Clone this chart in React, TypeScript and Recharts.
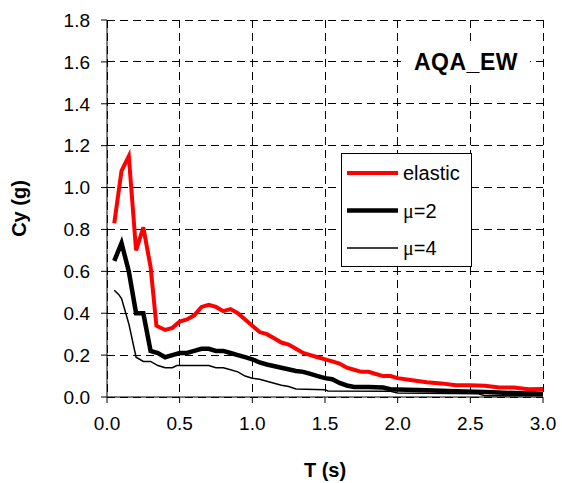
import React from 'react';
import { LineChart, Line, XAxis, YAxis, CartesianGrid, Legend } from 'recharts';

// period T (s) and yield coefficient Cy (g)
const elasticT = [0.05, 0.1, 0.15, 0.2, 0.25, 0.3, 0.34, 0.4, 0.45, 0.5, 0.55, 0.6, 0.65, 0.7, 0.75, 0.8, 0.85, 0.9, 0.95, 1.0, 1.05, 1.1, 1.15, 1.2, 1.25, 1.3, 1.35, 1.4, 1.45, 1.5, 1.55, 1.6, 1.65, 1.7, 1.75, 1.8, 1.85, 1.9, 1.95, 2.0, 2.1, 2.2, 2.3, 2.4, 2.5, 2.6, 2.7, 2.8, 2.9, 3.0];
const elasticCy = [0.83, 1.08, 1.15, 0.7, 0.81, 0.62, 0.34, 0.32, 0.33, 0.36, 0.37, 0.39, 0.43, 0.44, 0.43, 0.41, 0.42, 0.4, 0.37, 0.34, 0.31, 0.3, 0.28, 0.26, 0.25, 0.23, 0.21, 0.2, 0.19, 0.18, 0.17, 0.16, 0.14, 0.13, 0.12, 0.12, 0.11, 0.1, 0.1, 0.09, 0.08, 0.07, 0.065, 0.056, 0.056, 0.054, 0.045, 0.045, 0.037, 0.038];

const mu2T = [0.05, 0.1, 0.15, 0.2, 0.25, 0.3, 0.35, 0.4, 0.45, 0.5, 0.55, 0.6, 0.65, 0.7, 0.75, 0.8, 0.85, 0.9, 0.95, 1.0, 1.05, 1.1, 1.2, 1.3, 1.35, 1.4, 1.45, 1.5, 1.55, 1.6, 1.65, 1.7, 1.8, 1.9, 1.95, 2.0, 2.2, 2.4, 2.6, 2.8, 3.0];
const mu2Cy = [0.65, 0.735, 0.6, 0.4, 0.4, 0.22, 0.21, 0.19, 0.2, 0.21, 0.21, 0.22, 0.23, 0.23, 0.22, 0.22, 0.21, 0.2, 0.19, 0.18, 0.165, 0.155, 0.14, 0.124, 0.12, 0.11, 0.1, 0.09, 0.085, 0.067, 0.055, 0.048, 0.048, 0.045, 0.037, 0.036, 0.032, 0.028, 0.024, 0.019, 0.016];

const mu4T = [0.05, 0.08, 0.1, 0.15, 0.2, 0.25, 0.3, 0.35, 0.4, 0.45, 0.48, 0.55, 0.6, 0.65, 0.7, 0.75, 0.8, 0.85, 0.9, 0.95, 1.0, 1.05, 1.1, 1.2, 1.25, 1.3, 1.5, 1.52, 1.95, 2.0, 2.55, 2.6, 3.0];
const mu4Cy = [0.51, 0.49, 0.47, 0.35, 0.19, 0.17, 0.17, 0.15, 0.14, 0.14, 0.15, 0.15, 0.15, 0.15, 0.15, 0.14, 0.14, 0.13, 0.12, 0.1, 0.09, 0.085, 0.075, 0.056, 0.05, 0.038, 0.035, 0.029, 0.027, 0.019, 0.016, 0.006, 0.006];

const xTicks = [0, 0.5, 1, 1.5, 2, 2.5, 3];
const yTicks = [0, 0.2, 0.4, 0.6, 0.8, 1.0, 1.2, 1.4, 1.6, 1.8];

const toRows = (ts: number[], cys: number[]) => ts.map((T, i) => ({ T, Cy: cys[i] }));
const elastic = toRows(elasticT, elasticCy);
const mu2 = toRows(mu2T, mu2Cy);
const mu4 = toRows(mu4T, mu4Cy);

const FONT = '"Liberation Sans", Arial, sans-serif';

const legendItems = [
  { key: 'elastic', color: '#ff0000', width: 4 },
  { key: 'mu2', color: '#000000', width: 4.5 },
  { key: 'mu4', color: '#000000', width: 1.5 },
];

const renderLegend = () => (
  <svg width={131} height={114} style={{ display: 'block' }}>
    <rect x={0.5} y={0.5} width={130} height={113} fill="#fff" stroke="#000" />
    {legendItems.map((it, i) => {
      const y = 20 + i * 37.5;
      return (
        <g key={it.key}>
          <line x1={6} x2={57} y1={y} y2={y} stroke={it.color} strokeWidth={it.width} />
          {it.key === 'elastic' ? (
            <text x={62} y={y} dy="0.35em" fontFamily={FONT} fontSize={20} fill="#000">elastic</text>
          ) : (
            <text x={62} y={y} dy="0.35em" fontSize={20} fill="#000">
              <tspan fontFamily='"Liberation Serif", serif'>μ</tspan>
              <tspan fontFamily={FONT}>{it.key === 'mu2' ? '=2' : '=4'}</tspan>
            </text>
          )}
        </g>
      );
    })}
  </svg>
);

export default function App() {
  return (
    <div style={{ position: 'absolute', left: 0, top: 0, width: 562, height: 483, background: '#fff' }}>
      <LineChart width={562} height={483} margin={{ top: 20, right: 19, bottom: 0, left: 0 }}>
        <CartesianGrid stroke="#000" strokeDasharray="8 5" shapeRendering="crispEdges" />
        <XAxis
          type="number"
          dataKey="T"
          domain={[0, 3]}
          ticks={xTicks}
          tickFormatter={(v: number) => v.toFixed(1)}
          height={86}
          stroke="#000"
          tickSize={6}
          tickMargin={14}
          tick={{ fill: '#000', fontSize: 19, fontFamily: FONT }}
          label={({ viewBox }: any) => (
            <text x={viewBox.x + viewBox.width / 2} y={477} textAnchor="middle" fontFamily={FONT} fontSize={20} fontWeight="bold" fill="#000">
              T (s)
            </text>
          )}
        />
        <YAxis
          type="number"
          domain={[0, 1.8]}
          ticks={yTicks}
          tickFormatter={(v: number) => v.toFixed(1)}
          width={107}
          stroke="#000"
          tickSize={6}
          tickMargin={11}
          tick={{ fill: '#000', fontSize: 19, fontFamily: FONT }}
          label={({ viewBox }: any) => {
            const cy = viewBox.y + viewBox.height / 2;
            return (
              <text x={26} y={cy} textAnchor="middle" transform={`rotate(-90 26 ${cy})`} fontFamily={FONT} fontSize={20} fontWeight="bold" fill="#000">
                Cy (g)
              </text>
            );
          }}
        />
        <Legend
          layout="vertical"
          align="center"
          verticalAlign="middle"
          content={renderLegend}
          wrapperStyle={{ left: 341, top: 153, width: 131, height: 114 }}
        />
        <Line data={elastic} dataKey="Cy" name="elastic" type="linear" stroke="#ff0000" strokeWidth={4} dot={false} isAnimationActive={false} />
        <Line data={mu2} dataKey="Cy" name="μ=2" type="linear" stroke="#000" strokeWidth={4.5} dot={false} isAnimationActive={false} />
        <Line data={mu4} dataKey="Cy" name="μ=4" type="linear" stroke="#000" strokeWidth={1.5} dot={false} isAnimationActive={false} />
      </LineChart>
      <div style={{ position: 'absolute', left: 402, top: 42, padding: '6px 12px', background: '#fff', fontFamily: FONT, fontWeight: 'bold', fontSize: 23, letterSpacing: 0.5, lineHeight: '28px', color: '#000' }}>
        AQA_EW
      </div>
    </div>
  );
}
